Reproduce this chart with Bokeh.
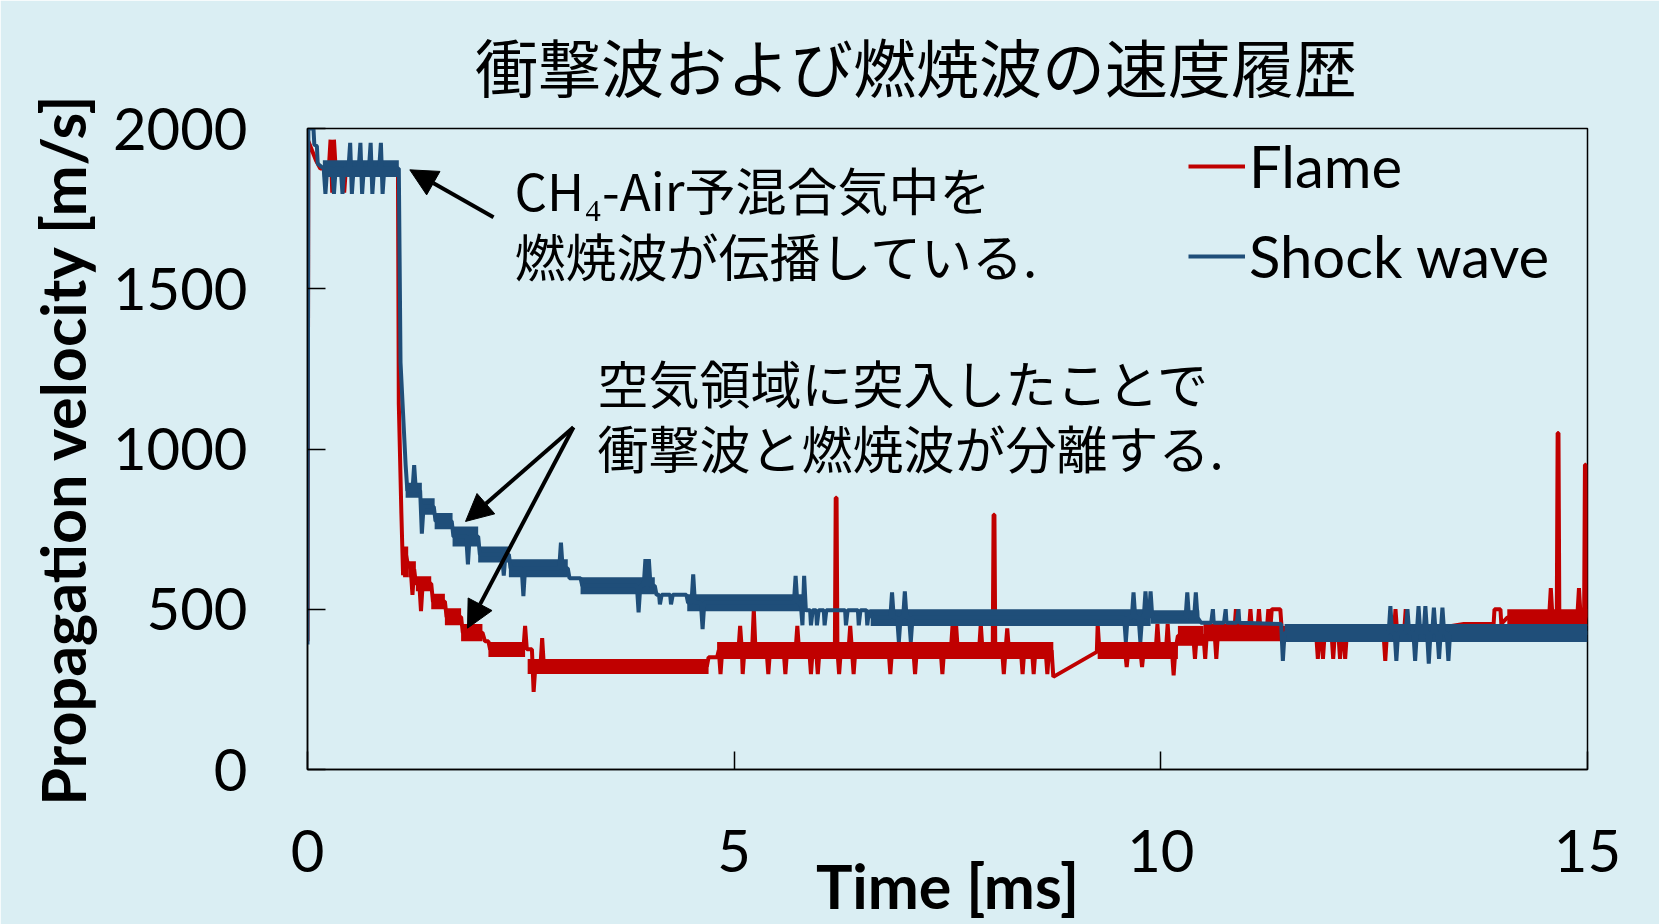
from bokeh.plotting import figure
from bokeh.models import (Range1d, SingleIntervalTicker, FixedTicker, LinearAxis, Label, Arrow,
                          NormalHead, Legend, LegendItem)
from bokeh.embed import file_html
from bokeh.resources import INLINE

BG = "#DAEEF3"
RED = "#C00000"
BLUE = "#1F4E79"
LAT = "Lato"
CJK = "Noto Sans CJK JP"

# ---------------- data ----------------
# Shock wave trace: (time [ms], velocity [m/s])
shock_trace = [
    (0.00, 390), (0.01, 2000), (0.07, 2000), (0.08, 1950), (0.11, 1945), (0.12, 1890), (0.19, 1875),
    (0.21, 1796), (0.23, 1875), (0.29, 1875), (0.31, 1796), (0.33, 1875), (0.39, 1875), (0.41, 1796), (0.43, 1875),
    (0.48, 1875), (0.50, 1955), (0.52, 1796), (0.54, 1875), (0.60, 1875), (0.62, 1955), (0.64, 1796), (0.66, 1875),
    (0.72, 1875), (0.74, 1955), (0.76, 1796), (0.78, 1875), (0.84, 1875), (0.86, 1955), (0.88, 1796), (0.90, 1875),
    (1.07, 1875), (1.09, 1270), (1.15, 950), (1.17, 870), (1.23, 870), (1.25, 950), (1.27, 870), (1.32, 870),
    (1.34, 736), (1.36, 820), (1.48, 820), (1.50, 775), (1.69, 775), (1.71, 727), (1.86, 727), (1.88, 640),
    (1.90, 727), (2.00, 727), (2.02, 671), (2.28, 671), (2.30, 605), (2.32, 671), (2.36, 671), (2.38, 628),
    (2.51, 628), (2.53, 541), (2.55, 628), (2.95, 628), (2.97, 708), (2.99, 628), (3.05, 628), (3.07, 597),
    (3.20, 597), (3.22, 573), (3.86, 573), (3.88, 490), (3.90, 573), (3.94, 573), (3.96, 656), (3.98, 573),
    (4.00, 656), (4.02, 573), (4.07, 573), (4.09, 545), (4.12, 545), (4.13, 515), (4.15, 545), (4.25, 545),
    (4.26, 515), (4.28, 545), (4.44, 545), (4.46, 520), (4.50, 520), (4.52, 609), (4.54, 520), (4.61, 520),
    (4.63, 438), (4.65, 520), (5.70, 520), (5.72, 604), (5.74, 520), (5.78, 520), (5.80, 450), (5.82, 604),
    (5.84, 497), (5.89, 497), (5.90, 450), (5.92, 497), (5.96, 497), (5.97, 450), (5.99, 497), (6.05, 497),
    (6.06, 450), (6.08, 497), (6.30, 497), (6.31, 450), (6.33, 497), (6.45, 497), (6.46, 450), (6.48, 497),
    (6.55, 497), (6.56, 450), (6.58, 497), (6.62, 474), (6.83, 474), (6.85, 553), (6.87, 474), (6.91, 474),
    (6.93, 398), (6.95, 474), (6.98, 474), (7.00, 556), (7.02, 474), (7.05, 474), (7.07, 398), (7.09, 474),
    (9.57, 474), (9.59, 398), (9.61, 474), (9.66, 474), (9.68, 553), (9.70, 474), (9.74, 474), (9.76, 398),
    (9.78, 474), (9.80, 474), (9.82, 556), (9.84, 474), (9.86, 474), (9.88, 556), (9.90, 474), (10.29, 474),
    (10.31, 553), (10.33, 474), (10.39, 474), (10.41, 553), (10.43, 474), (10.47, 458), (10.59, 458),
    (10.61, 500), (10.62, 458), (10.74, 458), (10.76, 500), (10.77, 458), (10.89, 458), (10.91, 500),
    (10.92, 458), (11.41, 454), (11.43, 339), (11.45, 426), (12.67, 426), (12.69, 510), (12.71, 426),
    (12.74, 426), (12.76, 339), (12.78, 426), (12.87, 426), (12.89, 500), (12.91, 426), (12.96, 426),
    (12.98, 339), (13.00, 426), (13.02, 510), (13.04, 426), (13.08, 426), (13.10, 510), (13.12, 426),
    (13.14, 330), (13.16, 426), (13.18, 426), (13.20, 505), (13.22, 426), (13.24, 426), (13.26, 345),
    (13.28, 426), (13.30, 505), (13.32, 426), (13.35, 426), (13.37, 339), (13.39, 426), (15.00, 426),
]

# Flame trace: (time [ms], velocity [m/s])
flame_trace = [
    (0.00, 400), (0.01, 1960), (0.10, 1900), (0.15, 1875), (0.25, 1875), (0.27, 1965), (0.29, 1800),
    (0.31, 1965), (0.33, 1875), (0.41, 1875), (0.43, 1800), (0.45, 1875), (1.06, 1875), (1.07, 1140),
    (1.10, 800), (1.12, 606), (1.14, 690), (1.17, 648), (1.21, 625), (1.23, 545), (1.25, 625), (1.27, 580),
    (1.31, 580), (1.33, 494), (1.35, 580), (1.45, 580), (1.47, 524), (1.61, 524), (1.63, 476), (1.80, 476),
    (1.82, 427), (2.05, 427), (2.08, 400), (2.12, 400), (2.14, 375), (2.53, 375), (2.55, 448), (2.57, 375),
    (2.63, 375), (2.65, 242), (2.67, 322), (2.73, 322), (2.75, 410), (2.77, 322), (4.68, 322), (4.70, 350),
    (4.80, 350), (4.82, 372), (4.84, 298), (4.86, 372), (5.05, 372), (5.07, 448), (5.09, 372), (5.10, 298),
    (5.12, 372), (5.21, 372), (5.23, 500), (5.25, 372), (5.38, 372), (5.40, 298), (5.42, 372), (5.58, 372),
    (5.60, 298), (5.62, 372), (5.72, 372), (5.74, 448), (5.76, 372), (5.88, 372), (5.90, 298), (5.92, 372),
    (5.96, 372), (5.98, 298), (6.00, 372), (6.18, 372), (6.19, 848), (6.20, 848), (6.21, 372), (6.23, 298),
    (6.25, 372), (6.34, 372), (6.36, 448), (6.38, 372), (6.40, 298), (6.42, 372), (6.81, 372), (6.83, 298),
    (6.85, 372), (7.10, 372), (7.12, 298), (7.14, 372), (7.42, 372), (7.44, 298), (7.46, 372), (7.54, 372),
    (7.56, 454), (7.58, 372), (7.60, 454), (7.62, 372), (7.87, 372), (7.89, 454), (7.91, 372), (8.03, 372),
    (8.04, 795), (8.05, 795), (8.06, 372), (8.14, 372), (8.16, 298), (8.18, 372), (8.20, 440), (8.22, 372),
    (8.36, 372), (8.38, 298), (8.40, 372), (8.49, 372), (8.51, 298), (8.53, 372), (8.65, 372), (8.67, 298),
    (8.69, 372), (8.72, 372), (8.74, 289), (9.25, 367), (9.26, 454), (9.28, 372), (9.58, 372), (9.60, 320),
    (9.62, 372), (9.76, 372), (9.78, 320), (9.80, 372), (9.94, 372), (9.96, 454), (9.98, 372), (10.06, 372),
    (10.08, 454), (10.10, 372), (10.13, 372), (10.15, 294), (10.17, 372), (10.20, 417), (10.38, 417),
    (10.40, 345), (10.42, 417), (10.50, 417), (10.52, 345), (10.54, 427), (10.63, 427), (10.65, 345),
    (10.67, 427), (10.86, 427), (10.88, 500), (10.90, 427), (11.03, 427), (11.05, 500), (11.07, 427),
    (11.13, 427), (11.15, 500), (11.17, 427), (11.24, 427), (11.26, 500), (11.28, 427), (11.30, 500),
    (11.40, 500), (11.42, 425), (11.82, 425), (11.84, 345), (11.86, 425), (11.88, 425), (11.90, 345),
    (11.92, 425), (12.00, 425), (12.02, 345), (12.04, 425), (12.08, 425), (12.10, 345), (12.12, 425),
    (12.14, 425), (12.16, 345), (12.18, 425), (12.61, 425), (12.63, 339), (12.65, 425), (12.73, 425),
    (12.75, 500), (12.77, 425), (12.85, 425), (12.87, 500), (12.89, 425), (13.55, 454), (13.90, 454),
    (13.91, 500), (13.98, 500), (13.99, 454), (14.06, 474), (14.46, 474), (14.48, 410), (14.50, 474),
    (14.55, 474), (14.57, 566), (14.59, 474), (14.64, 474), (14.65, 1050), (14.66, 1050), (14.67, 474),
    (14.75, 474), (14.77, 410), (14.79, 474), (14.88, 474), (14.90, 566), (14.92, 474), (14.96, 474),
    (14.97, 951), (14.98, 951), (14.99, 474), (15.00, 474),
]

# Rapidly alternating segments (t_start, t_end, v_low, v_high)
shock_bands = [
    (0.18, 1.07, 1849, 1901), (1.15, 1.34, 848, 895), (1.34, 1.49, 795, 846), (1.49, 1.70, 750, 800),
    (1.70, 2.00, 696, 758), (2.00, 2.36, 646, 696), (2.36, 3.05, 600, 656), (3.20, 4.07, 547, 600),
    (4.45, 5.80, 494, 547), (6.60, 9.88, 448, 500), (9.88, 10.45, 455, 497), (11.45, 15.00, 398, 454),
]
flame_bands = [
    (1.12, 1.18, 600, 696), (1.18, 1.27, 600, 650), (1.27, 1.45, 556, 603), (1.45, 1.61, 500, 548),
    (1.61, 1.80, 450, 503), (1.80, 2.05, 400, 454), (2.12, 2.55, 351, 398), (2.58, 4.70, 298, 345),
    (4.80, 8.74, 345, 398), (9.26, 10.20, 345, 398), (10.20, 10.50, 386, 448), (10.50, 11.40, 400, 454),
    (11.40, 13.55, 398, 448), (14.06, 15.00, 448, 500),
]

series_names = ["Flame", "Shock wave"]
chart_title = "衝撃波および燃焼波の速度履歴"
x_tick_step = 5
y_tick_step = 500

# ---------------- figure ----------------
p = figure(width=1659, height=924, output_backend="svg", toolbar_location=None,
           x_range=Range1d(0, 15), y_range=Range1d(0, 2000),
           min_border_left=307, min_border_right=72, min_border_top=128, min_border_bottom=153,
           background_fill_color=BG, border_fill_color=BG)
p.grid.visible = False
p.outline_line_color = "black"
p.outline_line_width = 1.5
p.title.text = ""

xax = p.below[0]
yax = p.left[0]
xax.ticker = SingleIntervalTicker(interval=x_tick_step, num_minor_ticks=0)
yax.ticker = SingleIntervalTicker(interval=y_tick_step, num_minor_ticks=0)
for ax in (xax, yax):
    ax.major_tick_in = 18
    ax.major_tick_out = 0
    ax.minor_tick_in = 0
    ax.minor_tick_out = 0
    ax.axis_line_color = "black"
    ax.axis_line_width = 1.5
    ax.major_tick_line_color = "black"
    ax.major_tick_line_width = 1.5
    ax.major_label_text_font = LAT
    ax.major_label_text_font_size = "58px"
    ax.major_label_text_color = "black"
    ax.axis_label_text_font = LAT
    ax.axis_label_text_font_style = "bold"
    ax.axis_label_text_font_size = "61px"
    ax.axis_label_text_color = "black"

xax.axis_label = "Time [ms]"
xax.major_label_standoff = 60
xax.axis_label_standoff = -26
yax.axis_label = "Propagation velocity [m/s]"
yax.major_label_standoff = 60
yax.axis_label_standoff = 11

# chart title, drawn as the label of a tick-less axis above the frame;
# the trailing ideographic space shifts it left of the frame centre as in the original
title_axis = LinearAxis(ticker=FixedTicker(ticks=[]), axis_label=chart_title + "\u3000",
                        axis_line_color=None,
                        major_tick_in=0, major_tick_out=0, minor_tick_in=0, minor_tick_out=0,
                        major_label_standoff=0, axis_label_standoff=19)
title_axis.axis_label_text_font = CJK
title_axis.axis_label_text_font_size = "63px"
title_axis.axis_label_text_font_style = "normal"
title_axis.axis_label_text_color = "black"
p.add_layout(title_axis, "above")

def unzip(pts):
    return [a for a, _ in pts], [b for _, b in pts]

fb = list(zip(*flame_bands))
sb = list(zip(*shock_bands))
ft, fv = unzip(flame_trace)
st, sv = unzip(shock_trace)

p.quad(left=list(fb[0]), right=list(fb[1]), bottom=list(fb[2]), top=list(fb[3]),
       fill_color=RED, line_color=None)
r_flame = p.line(ft, fv, line_color=RED, line_width=4)
p.quad(left=list(sb[0]), right=list(sb[1]), bottom=list(sb[2]), top=list(sb[3]),
       fill_color=BLUE, line_color=None)
r_shock = p.line(st, sv, line_color=BLUE, line_width=4)

legend = Legend(items=[LegendItem(label=series_names[0], renderers=[r_flame]),
                       LegendItem(label=series_names[1], renderers=[r_shock])],
                location=(881, 479), orientation="vertical", padding=0, margin=0, spacing=21,
                glyph_width=57, glyph_height=60, label_standoff=4, label_height=60,
                label_text_font=LAT, label_text_font_size="58px", label_text_color="black",
                border_line_alpha=0, background_fill_alpha=0)
p.add_layout(legend)

# annotations
notes = [
    (2.426, 1811, "CH₄-Air予混合気中を"),
    (2.426, 1606, "燃焼波が伝播している."),
    (3.399, 1209, "空気領域に突入したことで"),
    (3.399, 1006, "衝撃波と燃焼波が分離する."),
]
for x, y, t in notes:
    p.add_layout(Label(x=x, y=y, text=t, text_font=CJK, text_font_size="51px",
                       text_align="left", text_baseline="middle", text_color="black"))

arrows = [
    (2.18, 1723, 1.199, 1871),
    (3.117, 1068, 1.852, 774),
    (3.117, 1068, 1.875, 441),
]
for x0, y0, x1, y1 in arrows:
    p.add_layout(Arrow(end=NormalHead(size=27, fill_color="black", line_color="black"),
                       x_start=x0, y_start=y0, x_end=x1, y_end=y1,
                       line_width=4, line_color="black"))

html = file_html(p, INLINE)
html = html.replace("<body>", '<body style="background-color:#DAEEF3">', 1)
open("out.html", "w").write(html)
